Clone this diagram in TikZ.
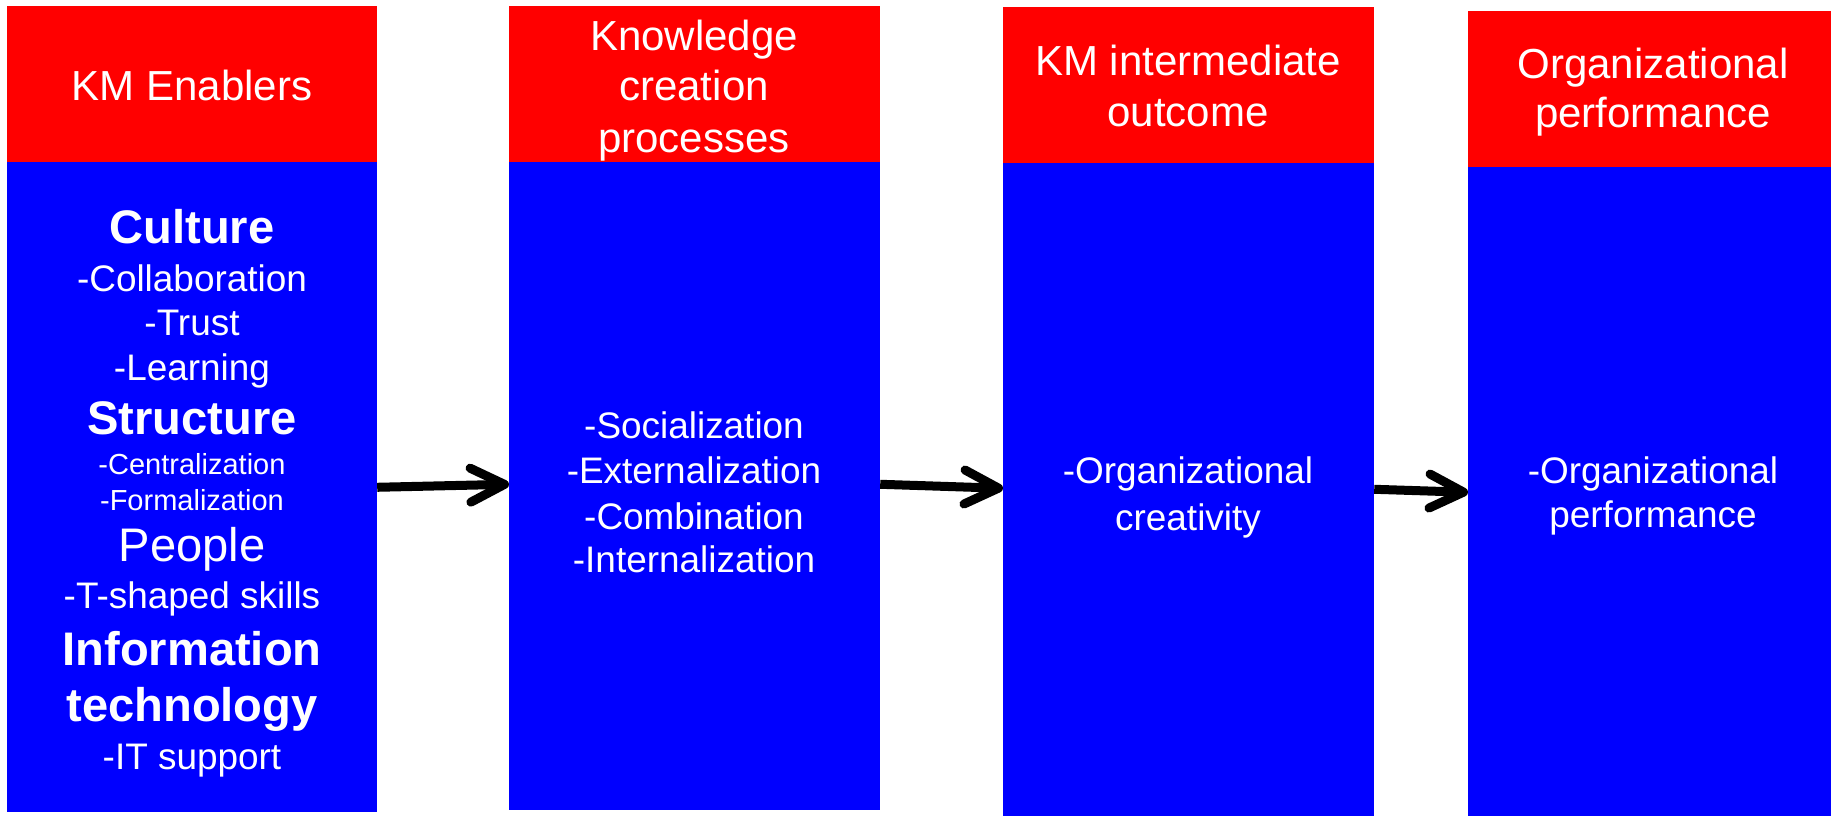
\documentclass[tikz,border=0pt]{standalone}
\usepackage{fontspec}
\setmainfont{Liberation Sans}
\usepackage{tikz}
\usetikzlibrary{arrows.meta, positioning}

\definecolor{hdred}{RGB}{255,0,0}
\definecolor{bdblue}{RGB}{0,0,255}

\begin{document}
\begin{tikzpicture}[
  x=0.01cm, y=-0.01cm,
  % Boxes
  basebox/.style={inner sep=0pt, outer sep=0pt},
  headbox/.style={basebox, anchor=north west, fill=hdred, minimum height=1.56cm},
  bodybox/.style={basebox, fill=bdblue},
  % Text lines, placed on their baselines
  basetxt/.style={text=white, inner sep=0pt, anchor=base},
  headtxt/.style={basetxt, font=\fontsize{11.95pt}{14pt}\selectfont},
  itemtxt/.style={basetxt, font=\fontsize{10.5pt}{12.6pt}\selectfont},
  smalltxt/.style={basetxt, font=\fontsize{8.25pt}{10pt}\selectfont},
  keytxt/.style={basetxt, font=\fontsize{13.4pt}{16pt}\selectfont\bfseries},
  keyplain/.style={basetxt, font=\fontsize{13.4pt}{16pt}\selectfont},
  flowarrow/.style={line width=0.09cm, -{Straight Barb[length=3.4mm, width=3.4mm, round]}}
]

  \useasboundingbox (0,0) rectangle (1831,815);

  % Column boxes: red title on top, blue body below
  \node[headbox, minimum width=3.70cm] (head1) at (7,6) {};
  \node[bodybox, minimum width=3.70cm, minimum height=6.50cm, below=0pt of head1] (body1) {};
  \node[headbox, minimum width=3.71cm] (head2) at (509,6) {};
  \node[bodybox, minimum width=3.71cm, minimum height=6.48cm, below=0pt of head2] (body2) {};
  \node[headbox, minimum width=3.71cm] (head3) at (1003,7) {};
  \node[bodybox, minimum width=3.71cm, minimum height=6.60cm, below=0pt of head3] (body3) {};
  \node[headbox, minimum width=3.70cm] (head4) at (1468,11) {};
  \node[bodybox, minimum width=3.70cm, minimum height=6.60cm, below=0pt of head4] (body4) {};

  % Titles
  \node[headtxt] (t1) at (192,100) {KM Enablers};
  \node[headtxt] (t2a) at (694,50) {Knowledge};
  \node[headtxt] (t2b) at (694,100) {creation};
  \node[headtxt] (t2c) at (694,152) {processes};
  \node[headtxt] (t3a) at (1188,75) {KM intermediate};
  \node[headtxt] (t3b) at (1188,126) {outcome};
  \node[headtxt] (t4a) at (1653,78) {Organizational};
  \node[headtxt] (t4b) at (1653,127) {performance};

  % Enablers
  \node[keytxt] (en1) at (192,243) {Culture};
  \node[itemtxt] (en2) at (192,291) {-Collaboration};
  \node[itemtxt] (en3) at (192,335) {-Trust};
  \node[itemtxt] (en4) at (192,380) {-Learning};
  \node[keytxt] (en5) at (192,434) {Structure};
  \node[smalltxt] (en6) at (192,474) {-Centralization};
  \node[smalltxt] (en7) at (192,510) {-Formalization};
  \node[keyplain] (en8) at (192,561) {People};
  \node[itemtxt] (en9) at (192,608) {-T-shaped skills};
  \node[keytxt] (en10) at (192,665) {Information};
  \node[keytxt] (en11) at (192,721) {technology};
  \node[itemtxt] (en12) at (192,769) {-IT support};

  % Knowledge creation
  \node[itemtxt] (kc1) at (694,438) {-Socialization};
  \node[itemtxt] (kc2) at (694,483) {-Externalization};
  \node[itemtxt] (kc3) at (694,529) {-Combination};
  \node[itemtxt] (kc4) at (694,572) {-Internalization};

  % Outcomes
  \node[itemtxt] (io1) at (1188,483) {-Organizational};
  \node[itemtxt] (io2) at (1188,530) {creativity};
  \node[itemtxt] (op1) at (1653,483) {-Organizational};
  \node[itemtxt] (op2) at (1653,527) {performance};

  % Arrows between columns
  \draw[flowarrow] (body1.east) -- ([yshift=0.02cm]body2.west);
  \draw[flowarrow] ([yshift=0.02cm]body2.east) -- ([yshift=0.05cm]body3.west);
  \draw[flowarrow] ([yshift=0.04cm]body3.east) -- ([yshift=0.05cm]body4.west);

\end{tikzpicture}
\end{document}
